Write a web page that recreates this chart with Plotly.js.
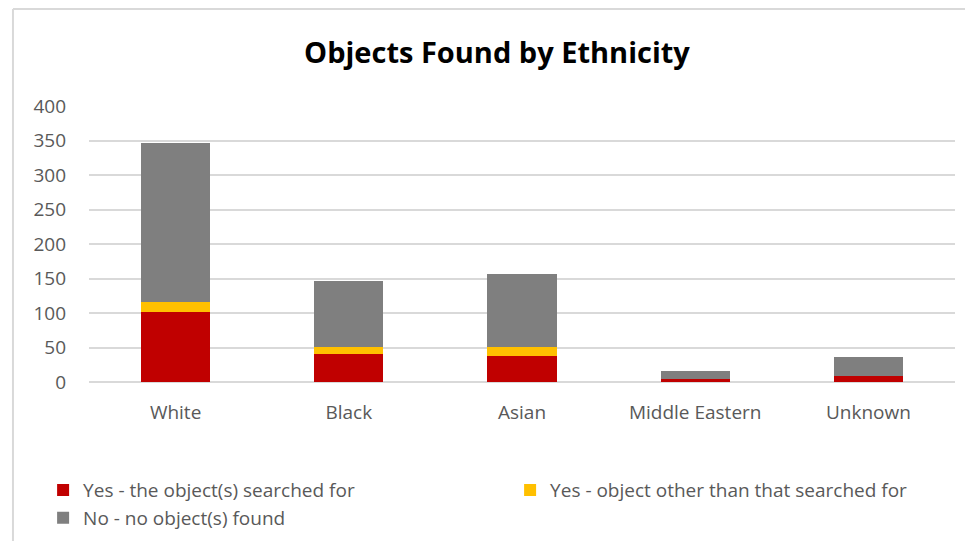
<!DOCTYPE html>
<html>
<head>
<meta charset="utf-8">
<script src="https://cdn.plot.ly/plotly-3.0.1.min.js"></script>
<style>html,body{margin:0;padding:0;background:#fff;}#chart{width:965px;height:541px;}</style>
</head>
<body>
<div id="chart"></div>
<script>
const categories = ["White", "Black", "Asian", "Middle Eastern", "Unknown"];
const seriesNames = ["Yes - the object(s) searched for", "Yes - object other than that searched for", "No - no object(s) found"];
const yesSearched = [101, 41, 37, 4, 9];
const yesOther = [15, 10, 14, 0, 0];
const noFound = [230, 96, 105, 12, 27];
const seriesColors = ["#C00000", "#FFC000", "#7F7F7F"];
const yTicks = [0, 50, 100, 150, 200, 250, 300, 350, 400];

const fontFam = "'Open Sans', 'Liberation Sans', sans-serif";
const values = [yesSearched, yesOther, noFound];
const traces = values.map((v, i) => ({
  type: "bar",
  name: seriesNames[i],
  x: categories,
  y: v,
  marker: {color: seriesColors[i], line: {width: 0}},
  hoverinfo: "x+y+name"
}));

const layout = {
  width: 965, height: 541,
  barmode: "stack",
  bargap: 0.6,
  paper_bgcolor: "#ffffff",
  plot_bgcolor: "#ffffff",
  margin: {l: 89, r: 10, t: 106, b: 159, autoexpand: false},
  title: {text: "<b>Objects Found by Ethnicity</b>", font: {family: fontFam, size: 29, color: "#000000"}, x: 0.515, xanchor: "center", y: 0.902, yanchor: "middle"},
  xaxis: {
    type: "category",
    tickfont: {family: fontFam, size: 19, color: "#595959"},
    showline: false, ticks: "", showgrid: false, zeroline: false,
    ticklabelstandoff: 17
  },
  yaxis: {
    range: [0, 400],
    tickvals: yTicks,
    ticktext: yTicks.map(String),
    tickfont: {family: fontFam, size: 19, color: "#595959"},
    gridcolor: "#D9D9D9", gridwidth: 2,
    zeroline: true, zerolinecolor: "#D9D9D9", zerolinewidth: 2,
    showline: false, ticks: "",
    ticklabelstandoff: 22
  },
  legend: {
    orientation: "h",
    x: -0.053, xanchor: "left",
    y: -0.323, yanchor: "top",
    traceorder: "normal",
    entrywidth: 422, entrywidthmode: "pixels",
    font: {family: fontFam, size: 19, color: "#595959"},
    bgcolor: "rgba(0,0,0,0)"
  },
  shapes: [
    {type: "line", xref: "paper", yref: "paper", x0: -0.0878, x1: 1.02, y0: 1.3514, y1: 1.3514, line: {color: "#D9D9D9", width: 2}},
    {type: "line", xref: "paper", yref: "paper", x0: -0.0878, x1: -0.0878, y0: 1.3514, y1: -0.6, line: {color: "#D9D9D9", width: 2}}
  ],
  showlegend: true
};

Plotly.newPlot("chart", traces, layout, {displayModeBar: false, staticPlot: true});
</script>
</body>
</html>
